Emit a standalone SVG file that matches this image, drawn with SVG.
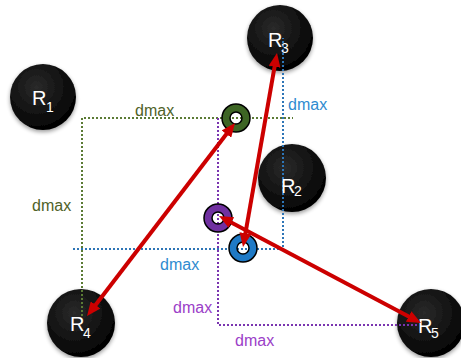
<svg xmlns="http://www.w3.org/2000/svg" width="461" height="358" viewBox="0 0 461 358">
<defs>
<radialGradient id="ball" cx="0.4" cy="0.35" r="0.7">
<stop offset="0" stop-color="#2a2a2a"/>
<stop offset="1" stop-color="#000"/>
</radialGradient>
<filter id="sh" x="-30%" y="-30%" width="160%" height="160%">
<feGaussianBlur in="SourceAlpha" stdDeviation="2"/>
<feOffset dx="0" dy="2" result="b"/>
<feComponentTransfer><feFuncA type="linear" slope="0.4"/></feComponentTransfer>
<feMerge><feMergeNode/><feMergeNode in="SourceGraphic"/></feMerge>
</filter>
<marker id="ah" markerUnits="userSpaceOnUse" markerWidth="14" markerHeight="12" refX="6" refY="6" orient="auto-start-reverse" viewBox="0 0 14 12">
<path d="M0,0 L14,6 L0,12 z" fill="#cc0000"/>
</marker>
<style>
.node{fill:url(#ball);filter:url(#sh)}
.lbl{font-family:"Liberation Sans",Arial,sans-serif;fill:#fff}
.big{font-size:20px}
.sub{font-size:14px}
.dot{fill:none;stroke-width:2;stroke-dasharray:2 2}
.g{stroke:#5b7b35}
.b{stroke:#2e75b6}
.p{stroke:#7a35b0}
.dm{font-family:"Liberation Sans",Arial,sans-serif;font-size:16px}
.tg{fill:#4f6228}
.tb{fill:#2e8bd0}
.tp{fill:#9b40c8}
.ring{fill:none;stroke-width:8}
.rim{fill:none;stroke:#000;stroke-width:1.5}
.arr{stroke:#cc0000;stroke-width:4;fill:none;marker-start:url(#ah);marker-end:url(#ah)}
</style>
</defs>
<rect width="461" height="358" fill="#fff"/>

<g id="R1"><circle class="node" cx="43" cy="97" r="33"/></g>
<g id="R3"><circle class="node" cx="280" cy="38" r="33"/></g>
<g id="R2"><circle class="node" cx="292" cy="178" r="34"/></g>
<g id="R4"><circle class="node" cx="81" cy="323" r="34"/></g>
<g id="R5"><circle class="node" cx="431" cy="323" r="34"/></g>

<g id="dmax-lines">
<path class="dot g" d="M82,316 V118 H293"/>
<path class="dot p" d="M218,118 V325 H418"/>
<path class="dot b" d="M73,249 H283 V38"/>
</g>

<g id="ring-green">
<circle class="ring" cx="236" cy="118" r="10" stroke="#3d6524"/>
<circle class="rim" cx="236" cy="118" r="14"/>
<circle class="rim" cx="236" cy="118" r="6"/>
</g>
<g id="ring-purple">
<circle class="ring" cx="218" cy="218" r="10" stroke="#7030a0"/>
<circle class="rim" cx="218" cy="218" r="14"/>
<circle class="rim" cx="218" cy="218" r="6"/>
</g>
<g id="ring-blue">
<circle class="ring" cx="243" cy="248" r="10" stroke="#1f7ac6"/>
<circle class="rim" cx="243" cy="248" r="14"/>
<circle class="rim" cx="243" cy="248" r="6"/>
</g>

<g id="labels">
<text class="lbl big" x="32" y="105">R</text><text class="lbl sub" x="46" y="112">1</text>
<text class="lbl big" x="268" y="47">R</text><text class="lbl sub" x="281" y="53">3</text>
<text class="lbl big" x="281" y="193">R</text><text class="lbl sub" x="294" y="196">2</text>
<text class="lbl big" x="70" y="331">R</text><text class="lbl sub" x="83" y="338">4</text>
<text class="lbl big" x="418" y="333">R</text><text class="lbl sub" x="431" y="338">5</text>
<text class="dm tg" x="135" y="116">dmax</text>
<text class="dm tg" x="32" y="211">dmax</text>
<text class="dm tb" x="288" y="110">dmax</text>
<text class="dm tb" x="160" y="270">dmax</text>
<text class="dm tp" x="173" y="313">dmax</text>
<text class="dm tp" x="235" y="346">dmax</text>
</g>

<g id="connectors">
<line class="arr" x1="230.1" y1="129.3" x2="91.9" y2="309.7"/>
<line class="arr" x1="275.6" y1="60.9" x2="244.4" y2="239.1"/>
<line class="arr" x1="226.1" y1="219.7" x2="413.9" y2="319.3"/>
</g>
</svg>
